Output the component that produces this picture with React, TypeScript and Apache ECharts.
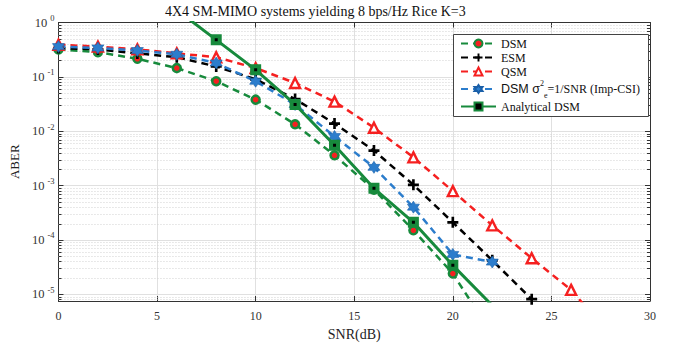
import React, { useEffect, useRef } from 'react';
import * as echarts from 'echarts';

// ---- data ----
const snrDSM = [0, 2, 4, 6, 8, 10, 12, 14, 16, 18, 20, 22];
const aberDSM = [0.32, 0.285, 0.215, 0.145, 0.083, 0.038, 0.0134, 0.0036, 8.4e-4, 1.5e-4, 2.4e-5, 1.8e-6];

const snrESM = [0, 2, 4, 6, 8, 10, 12, 14, 16, 18, 20, 22, 24];
const aberESM = [0.34, 0.32, 0.27, 0.23, 0.155, 0.09, 0.039, 0.0138, 0.0044, 0.00103, 2.1e-4, 4.2e-5, 8.1e-6];

const snrQSM = [0, 2, 4, 6, 8, 10, 12, 14, 16, 18, 20, 22, 24, 26, 28];
const aberQSM = [0.39, 0.36, 0.32, 0.27, 0.23, 0.145, 0.077, 0.035, 0.0116, 0.0033, 7.9e-4, 1.85e-4, 4.6e-5, 1.2e-5, 1.7e-6];

const snrImp = [0, 2, 4, 6, 8, 10, 12, 14, 16, 18, 20, 22];
const aberImp = [0.36, 0.34, 0.305, 0.26, 0.18, 0.083, 0.031, 0.008, 0.00216, 4.0e-4, 5.4e-5, 3.9e-5];

const snrAna = [6, 8, 10, 12, 14, 16, 18, 20, 22];
const aberAna = [1.7, 0.48, 0.135, 0.031, 0.0055, 8.9e-4, 2.1e-4, 3.4e-5, 6.2e-6];

const xTicks = [0, 5, 10, 15, 20, 25, 30];
const yMin = 7.5e-6;
const yMax = 1;

const seriesNames = ['DSM', 'ESM', 'QSM', 'DSM σe2=1/SNR (Imp-CSI)', 'Analytical DSM'];
const titleText = '4X4 SM-MIMO systems yielding 8 bps/Hz Rice K=3';

// ---- styles ----
const SERIF = '"Liberation Serif", "Times New Roman", serif';
const SANS = '"Liberation Sans", Arial, sans-serif';
const GREEN = '#178a3c';
const RED = '#f52020';
const BLUE = '#2c7dcc';
const BLACK = '#000000';

const PLUS = 'path://M38,0H62V38H100V62H62V100H38V62H0V38H38Z';
const HEXAGRAM =
  'path://M50,0L64.43,25L93.3,25L78.87,50L93.3,75L64.43,75L50,100L35.57,75L6.7,75L21.13,50L6.7,25L35.57,25Z';

function minorValues(): number[] {
  const out: number[] = [];
  for (let d = -6; d <= -1; d++) {
    for (let k = 2; k <= 9; k++) {
      const v = k * Math.pow(10, d);
      if (v > yMin && v < yMax) out.push(v);
    }
  }
  return out;
}

function pairs(xs: number[], ys: number[]) {
  return xs.map((x, i) => [x, ys[i]]);
}

export default function App() {
  const ref = useRef<HTMLDivElement>(null);

  useEffect(() => {
    if (!ref.current) return;
    const chart = echarts.init(ref.current, null, { renderer: 'svg' });

    const dash = [7, 5];
    const axisColor = '#333333';

    const option: any = {
      animation: false,
      backgroundColor: '#ffffff',
      title: {
        text: titleText,
        left: 165,
        top: 4,
        padding: 0,
        textStyle: { fontFamily: SERIF, fontSize: 14, fontWeight: 'normal', color: '#111' },
      },
      grid: { left: 58, right: 30, top: 22.5, bottom: 44, containLabel: false },
      xAxis: [
        {
          type: 'value',
          min: xTicks[0],
          max: xTicks[xTicks.length - 1],
          interval: 5,
          position: 'bottom',
          axisLine: { show: true, onZero: false, lineStyle: { color: axisColor, width: 1 } },
          axisTick: { show: true, inside: true, length: 5, lineStyle: { color: axisColor } },
          axisLabel: { color: '#333', fontFamily: SERIF, fontSize: 12, margin: 9 },
          splitLine: { show: true, lineStyle: { color: '#e0e0e0', width: 1 } },
          name: 'SNR(dB)',
          nameLocation: 'middle',
          nameGap: 26,
          nameTextStyle: { fontFamily: SERIF, fontSize: 14, color: '#222' },
        },
        {
          type: 'value',
          min: xTicks[0],
          max: xTicks[xTicks.length - 1],
          interval: 5,
          position: 'top',
          axisLine: { show: true, onZero: false, lineStyle: { color: axisColor, width: 1 } },
          axisTick: { show: true, inside: true, length: 5, lineStyle: { color: axisColor } },
          axisLabel: { show: false },
          splitLine: { show: false },
        },
      ],
      yAxis: [
        {
          type: 'log',
          logBase: 10,
          min: yMin,
          max: yMax,
          position: 'left',
          axisLine: { show: true, onZero: false, lineStyle: { color: axisColor, width: 1 } },
          axisTick: { show: true, inside: true, length: 5, lineStyle: { color: axisColor } },
          axisLabel: {
            margin: 4,
            formatter: (v: number) => {
              const l = Math.log10(v);
              const e = Math.round(l);
              if (Math.abs(l - e) > 0.01) return '';
              return '{b|10}{e|' + e + '}';
            },
            rich: {
              b: { fontFamily: SERIF, fontSize: 12.5, color: '#333', lineHeight: 18 },
              e: { fontFamily: SERIF, fontSize: 8.5, color: '#333', lineHeight: 9, verticalAlign: 'top', padding: [0, 0, 0, 3] },
            },
          },
          splitLine: { show: true, lineStyle: { color: '#e0e0e0', width: 1 } },
          name: 'ABER',
          nameLocation: 'middle',
          nameGap: 33,
          nameTextStyle: { fontFamily: SERIF, fontSize: 13, color: '#222' },
        },
        {
          type: 'log',
          logBase: 10,
          min: yMin,
          max: yMax,
          position: 'right',
          axisLine: { show: true, onZero: false, lineStyle: { color: axisColor, width: 1 } },
          axisTick: { show: true, inside: true, length: 5, lineStyle: { color: axisColor } },
          axisLabel: { show: false },
          splitLine: { show: false },
        },
      ],
      legend: {
        data: seriesNames,
        orient: 'vertical',
        left: 460,
        top: 37,
        padding: 0,
        itemWidth: 35,
        itemHeight: 10,
        itemGap: 1,
        z: 10,
        selectedMode: false,
        formatter: (name: string) =>
          name === seriesNames[3]
            ? '{sans|DSM σ}{sup|2}{sub|e}{serif|=1/SNR (Imp-CSI)}'
            : name,
        textStyle: {
          fontFamily: SERIF,
          fontSize: 12,
          lineHeight: 13,
          color: '#111',
          rich: {
            sans: { fontFamily: SANS, fontSize: 12.5, lineHeight: 20, color: '#111' },
            sup: { fontFamily: SERIF, fontSize: 8, lineHeight: 9, verticalAlign: 'top', color: '#111' },
            sub: { fontFamily: SERIF, fontSize: 8, lineHeight: 9, verticalAlign: 'bottom', color: '#111' },
            serif: { fontFamily: SERIF, fontSize: 12, lineHeight: 20, color: '#111' },
          },
        },
      },
      graphic: [
        {
          type: 'rect',
          z: 9,
          shape: { x: 453.5, y: 34.5, width: 195, height: 82 },
          style: { fill: '#ffffff', stroke: '#444', lineWidth: 1 },
        },
      ],
      series: [
        {
          type: 'custom',
          silent: true,
          z: 1,
          xAxisIndex: 0,
          yAxisIndex: 0,
          data: minorValues().map((v) => [0, v]),
          encode: { x: 0, y: 1 },
          renderItem: (params: any, api: any) => {
            const cs = params.coordSys;
            const yy = Math.round(api.coord([0, api.value(1)])[1]) + 0.5;
            return {
              type: 'group',
              children: [
                {
                  type: 'line',
                  shape: { x1: cs.x, y1: yy, x2: cs.x + cs.width, y2: yy },
                  style: { stroke: '#d2d2d2', lineWidth: 1, lineDash: [1, 2] },
                },
                {
                  type: 'line',
                  shape: { x1: cs.x, y1: yy, x2: cs.x + 3, y2: yy },
                  style: { stroke: axisColor, lineWidth: 1 },
                },
                {
                  type: 'line',
                  shape: { x1: cs.x + cs.width - 3, y1: yy, x2: cs.x + cs.width, y2: yy },
                  style: { stroke: axisColor, lineWidth: 1 },
                },
              ],
            };
          },
        },
        {
          name: seriesNames[0],
          type: 'line',
          z: 3,
          data: pairs(snrDSM, aberDSM),
          clip: true,
          symbol: 'circle',
          symbolSize: 8,
          lineStyle: { color: GREEN, width: 2.5, type: dash },
          itemStyle: { color: RED, borderColor: GREEN, borderWidth: 2.5 },
          emphasis: { disabled: true },
        },
        {
          name: seriesNames[1],
          type: 'line',
          z: 3,
          data: pairs(snrESM, aberESM),
          clip: true,
          symbol: PLUS,
          symbolSize: 11,
          lineStyle: { color: BLACK, width: 2.5, type: dash },
          itemStyle: { color: BLACK },
          emphasis: { disabled: true },
        },
        {
          name: seriesNames[2],
          type: 'line',
          z: 3,
          data: pairs(snrQSM, aberQSM),
          clip: true,
          symbol: 'triangle',
          symbolSize: 10,
          lineStyle: { color: RED, width: 2.5, type: dash },
          itemStyle: { color: '#ffffff', borderColor: RED, borderWidth: 2.4 },
          emphasis: { disabled: true },
        },
        {
          name: seriesNames[3],
          type: 'line',
          z: 3,
          data: pairs(snrImp, aberImp),
          clip: true,
          symbol: HEXAGRAM,
          symbolSize: 12,
          lineStyle: { color: BLUE, width: 2.5, type: dash },
          itemStyle: { color: BLUE, borderColor: '#1a5fa8', borderWidth: 0.6 },
          emphasis: { disabled: true },
        },
        {
          name: seriesNames[4],
          type: 'line',
          z: 4,
          data: pairs(snrAna, aberAna),
          clip: true,
          symbol: 'rect',
          symbolSize: 7,
          lineStyle: { color: GREEN, width: 3, type: 'solid' },
          itemStyle: { color: '#000000', borderColor: GREEN, borderWidth: 4 },
          emphasis: { disabled: true },
        },
      ],
    };

    chart.setOption(option);
    return () => chart.dispose();
  }, []);

  return (
    <div
      ref={ref}
      style={{ position: 'absolute', left: 0, top: 0, width: 680, height: 346, background: '#fff' }}
    />
  );
}
